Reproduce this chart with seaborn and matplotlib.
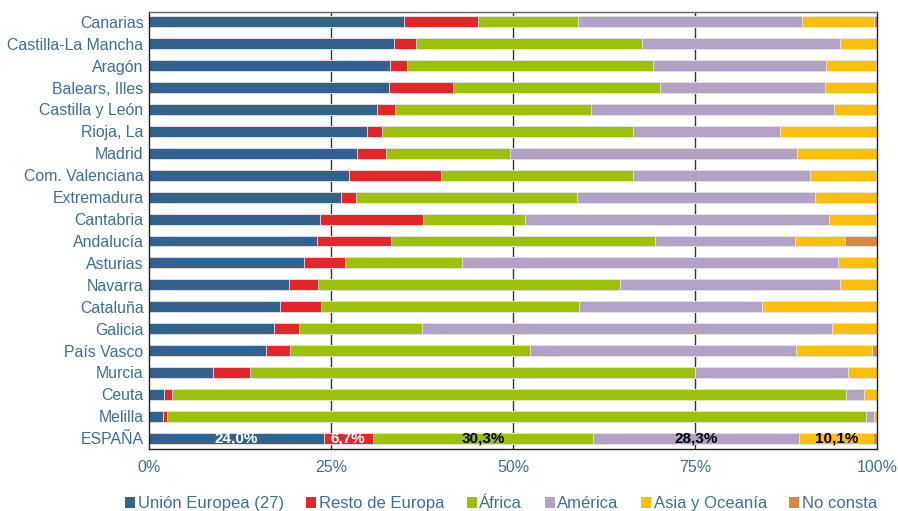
import pandas as pd
import matplotlib
matplotlib.use("Agg")
import matplotlib.pyplot as plt
from matplotlib.patches import Patch
import seaborn as sns

regions = ["Canarias", "Castilla-La Mancha", "Aragón", "Balears, Illes", "Castilla y León",
           "Rioja, La", "Madrid", "Com. Valenciana", "Extremadura", "Cantabria", "Andalucía",
           "Asturias", "Navarra", "Cataluña", "Galicia", "País Vasco", "Murcia", "Ceuta",
           "Melilla", "ESPAÑA"]

union_europea = [35.0, 33.7, 33.1, 32.9, 31.3, 29.9, 28.6, 27.5, 26.4, 23.5, 23.1, 21.3, 19.2, 18.0, 17.1, 16.0, 8.8, 2.1, 1.9, 24.0]
resto_europa = [10.2, 2.9, 2.3, 8.9, 2.5, 2.1, 4.0, 12.6, 2.0, 14.1, 10.1, 5.6, 4.0, 5.6, 3.5, 3.4, 5.1, 1.1, 0.5, 6.7]
africa = [13.7, 31.1, 33.8, 28.3, 26.9, 34.5, 17.0, 26.4, 30.4, 14.0, 36.3, 16.1, 41.4, 35.4, 16.9, 32.9, 61.0, 92.5, 96.1, 30.3]
america = [30.8, 27.2, 23.7, 22.7, 33.4, 20.2, 39.3, 24.2, 32.7, 41.7, 19.2, 51.6, 30.3, 25.2, 56.3, 36.5, 21.1, 2.5, 1.1, 28.3]
asia_oceania = [9.9, 5.1, 6.9, 7.2, 5.9, 13.3, 11.1, 9.1, 8.5, 6.5, 6.9, 5.4, 5.1, 15.8, 6.2, 10.4, 4.0, 1.8, 0.4, 10.1]
no_consta = [0.4, 0.0, 0.2, 0.0, 0.0, 0.0, 0.0, 0.2, 0.0, 0.2, 4.4, 0.0, 0.0, 0.0, 0.0, 0.8, 0.0, 0.0, 0.0, 0.6]

series = ["Unión Europea (27)", "Resto de Europa", "África", "América", "Asia y Oceanía", "No consta"]
colors = ["#33628F", "#E4262A", "#9DC10B", "#B2A3C6", "#FCBF0B", "#DB883D"]
text_color = "#3E6E8E"

# etiquetas de la fila ESPAÑA
spain_labels = ["24,0%", "6,7%", "30,3%", "28,3%", "10,1%"]
spain_label_colors = ["white", "white", "black", "black", "black"]

df = pd.DataFrame({"region": regions})
for name, vals in zip(series, [union_europea, resto_europa, africa, america, asia_oceania, no_consta]):
    df[name] = vals

# normalizar a 100% y acumular
tot = df[series].sum(axis=1)
for name in series:
    df[name] = df[name] / tot * 100
cum = df[series].cumsum(axis=1)

sns.set_theme(style="white")
plt.rcParams["font.family"] = ["Liberation Sans", "DejaVu Sans"]

fig = plt.figure(figsize=(8.98, 5.11), dpi=100)
ax = fig.add_axes([0.166, 0.121, 0.811, 0.856])

# barras apiladas: dibujar de la mayor acumulada a la menor
for name, col in reversed(list(zip(series, colors))):
    sns.barplot(x=cum[name], y=df["region"], order=regions, color=col, orient="h",
                width=0.5, edgecolor="#e6e6e6", linewidth=0.6, ax=ax, saturation=1)

ax.set_xlim(0, 100)
ax.set_ylim(19.5, -0.46)
ax.set_xticks([0, 25, 50, 75, 100])
ax.set_xticklabels(["0%", "25%", "50%", "75%", "100%"])
ax.set_xlabel("")
ax.set_ylabel("")
ax.tick_params(axis="x", labelsize=11.5, colors=text_color, length=0, pad=8)
ax.tick_params(axis="y", labelsize=11.4, colors=text_color, length=0, pad=4)
for x in [25, 50, 75]:
    ax.axvline(x, color="#333333", lw=1.0, zorder=0)
ax.set_axisbelow(True)
for s in ax.spines.values():
    s.set_color("#222222")
    s.set_linewidth(1.0)
ax.spines["top"].set_color("#666666")

# etiquetas de ESPAÑA
iy = regions.index("ESPAÑA")
left = 0
for k, (lab, lc) in enumerate(zip(spain_labels, spain_label_colors)):
    w = df.loc[iy, series[k]]
    ax.text(left + w / 2, iy, lab, ha="center", va="center", color=lc,
            fontsize=11, fontweight="bold")
    left += w

handles = [Patch(facecolor=c, edgecolor="none") for c in colors]
leg = fig.legend(handles, series, loc="center", bbox_to_anchor=(0.558, 0.014), ncol=6,
                 frameon=False, fontsize=12, handlelength=0.6, handleheight=0.6,
                 handletextpad=0.15, columnspacing=1.35, borderpad=0)
for t in leg.get_texts():
    t.set_color(text_color)

fig.savefig("out.png", dpi=100)
